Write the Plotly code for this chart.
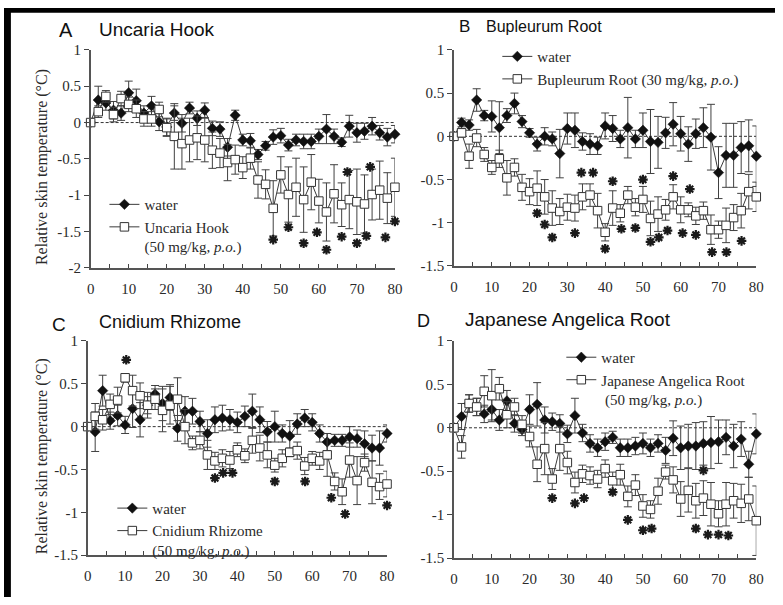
import plotly.graph_objects as go

# ---------------------------------------------------------------- data
minutes = list(range(0, 81, 2))

# A: Uncaria Hook
a_water = [0, 0.31, 0.27, 0.17, 0.13, 0.41, 0.30, 0.13, 0.23, 0.01, -0.06, 0.13, -0.01, 0.20, 0.06, 0.17,
           -0.08, -0.09, -0.34, 0.10, -0.24, -0.25, -0.44, -0.32, -0.20, -0.18, -0.31, -0.24, -0.26, -0.26,
           -0.19, -0.09, -0.19, -0.27, -0.05, -0.14, -0.12, -0.05, -0.14, -0.20, -0.16]
a_water_sem = [0, 0.19, 0.10, 0.12, 0.10, 0.16, 0.16, 0.10, 0.13, 0.12, 0.12, 0.10, 0.12, 0.08, 0.10, 0.10,
               0.10, 0.10, 0.12, 0.07, 0.08, 0.10, 0.07, 0.06, 0.10, 0.10, 0.08, 0.08, 0.10, 0.10,
               0.10, 0.20, 0.10, 0.06, 0.15, 0.13, 0.11, 0.12, 0.10, 0.12, 0.12]
a_drug = [0, 0.15, 0.36, 0.11, 0.33, 0.25, 0.19, 0.05, 0.05, 0.18, -0.07, -0.19, -0.29, -0.24, -0.21, -0.24,
          -0.38, -0.42, -0.55, -0.51, -0.62, -0.49, -0.79, -0.85, -1.18, -0.72, -0.99, -0.89, -1.06, -0.82,
          -1.08, -1.23, -0.98, -1.13, -1.06, -1.09, -1.12, -0.99, -0.93, -1.04, -0.89]
a_drug_sem = [0, 0.08, 0.08, 0.10, 0.10, 0.10, 0.12, 0.10, 0.10, 0.10, 0.12, 0.45, 0.35, 0.30, 0.30, 0.30,
              0.25, 0.20, 0.25, 0.20, 0.15, 0.15, 0.25, 0.20, 0.38, 0.25, 0.38, 0.40, 0.45, 0.38,
              0.30, 0.40, 0.40, 0.30, 0.40, 0.45, 0.40, 0.35, 0.40, 0.35, 0.40]
a_star_t = [48, 52, 56, 59.5, 62, 66, 67.5, 70, 72.5, 73.5, 77.5, 80]
a_star_y = [-1.61, -1.44, -1.66, -1.51, -1.75, -1.57, -0.68, -1.66, -1.56, -0.61, -1.58, -1.36]

# B: Bupleurum Root
b_water = [0, 0.16, 0.13, 0.42, 0.24, 0.23, 0.10, 0.24, 0.38, 0.17, 0.04, -0.09, 0.00, -0.03, -0.20, 0.09,
           0.07, -0.06, -0.09, -0.11, 0.12, 0.09, -0.03, 0.10, -0.03, 0.07, -0.06, -0.07, 0.04, 0.14,
           0.03, -0.09, 0.03, 0.10, -0.01, -0.42, -0.22, -0.22, -0.13, -0.11, -0.23]
b_water_sem = [0, 0.05, 0.06, 0.13, 0.06, 0.18, 0.30, 0.08, 0.12, 0.07, 0.05, 0.08, 0.10, 0.08, 0.28, 0.18,
               0.20, 0.10, 0.12, 0.10, 0.15, 0.15, 0.10, 0.35, 0.10, 0.20, 0.37, 0.30, 0.18, 0.25,
               0.20, 0.20, 0.17, 0.23, 0.38, 0.30, 0.37, 0.37, 0.30, 0.30, 0.35]
b_drug = [0, 0.04, -0.23, -0.02, -0.21, -0.36, -0.26, -0.48, -0.36, -0.59, -0.64, -0.60, -0.70, -0.83, -0.87,
          -0.82, -0.83, -0.70, -0.68, -0.86, -1.11, -0.83, -0.89, -0.68, -0.82, -0.73, -0.95, -0.90, -0.85,
          -0.70, -0.85, -0.85, -0.92, -0.86, -1.08, -1.08, -1.03, -0.94, -0.86, -0.64, -0.70]
b_drug_sem = [0, 0.05, 0.14, 0.10, 0.08, 0.08, 0.10, 0.20, 0.10, 0.15, 0.15, 0.20, 0.20, 0.20, 0.15, 0.15,
              0.15, 0.15, 0.13, 0.20, 0.10, 0.20, 0.10, 0.10, 0.10, 0.15, 0.20, 0.20, 0.12, 0.14,
              0.15, 0.08, 0.10, 0.10, 0.17, 0.10, 0.20, 0.15, 0.20, 0.20, 0.17]
b_star_t = [22, 24, 26, 32, 33.7, 36.8, 40, 42, 44.3, 48, 50, 52, 54.2, 56.5, 58, 60.5, 62.4, 64, 68.3, 72.1, 76.1]
b_star_y = [-0.89, -1.02, -1.17, -1.12, -0.42, -0.42, -1.30, -0.52, -1.07, -1.06, -0.50, -1.22, -1.17, -1.09,
            -0.46, -1.12, -0.61, -1.14, -1.34, -1.34, -1.21]

# C: Cnidium Rhizome
c_water = [0, -0.06, 0.42, 0.07, 0.13, 0.02, 0.21, 0.08, 0.25, 0.38, 0.27, 0.34, -0.02, 0.18, 0.18, 0.06,
           -0.08, 0.08, 0.10, 0.08, 0.05, 0.12, 0.18, 0.08, -0.06, 0.00, -0.08, -0.11, 0.03, 0.10,
           0.05, -0.08, -0.18, -0.16, -0.16, -0.12, -0.14, -0.20, -0.25, -0.25, -0.08]
c_water_sem = [0, 0.23, 0.18, 0.10, 0.12, 0.10, 0.22, 0.20, 0.10, 0.10, 0.20, 0.15, 0.15, 0.17, 0.15, 0.12,
               0.16, 0.15, 0.15, 0.12, 0.12, 0.12, 0.20, 0.15, 0.12, 0.18, 0.10, 0.18, 0.12, 0.10,
               0.10, 0.10, 0.10, 0.07, 0.07, 0.12, 0.10, 0.15, 0.15, 0.20, 0.10]
c_drug = [0, 0.12, 0.08, 0.26, 0.31, 0.57, 0.42, 0.36, 0.25, 0.32, 0.19, 0.25, 0.32, 0.00, -0.19, -0.16,
          -0.33, -0.40, -0.37, -0.39, -0.27, -0.34, -0.16, -0.25, -0.33, -0.45, -0.37, -0.30, -0.28, -0.46,
          -0.37, -0.40, -0.33, -0.64, -0.76, -0.39, -0.63, -0.42, -0.65, -0.70, -0.67]
c_drug_sem = [0, 0.15, 0.12, 0.12, 0.15, 0.05, 0.18, 0.15, 0.15, 0.12, 0.25, 0.22, 0.25, 0.20, 0.08, 0.10,
              0.17, 0.10, 0.10, 0.10, 0.08, 0.08, 0.15, 0.15, 0.15, 0.08, 0.10, 0.05, 0.10, 0.10,
              0.08, 0.10, 0.25, 0.10, 0.15, 0.20, 0.28, 0.10, 0.25, 0.15, 0.15]
c_star_t = [10.3, 34, 36.2, 38.7, 50, 58.1, 65.1, 68.8, 80]
c_star_y = [0.78, -0.60, -0.54, -0.54, -0.64, -0.64, -0.83, -1.02, -0.92]

# D: Japanese Angelica Root
d_water = [0, 0.13, 0.28, 0.24, 0.16, 0.21, 0.09, 0.31, 0.05, -0.02, 0.21, 0.27, 0.09, 0.07, 0.05, -0.07,
           0.14, -0.06, -0.18, -0.23, -0.16, -0.11, -0.23, -0.23, -0.21, -0.18, -0.23, -0.18, -0.26, -0.12,
           -0.23, -0.21, -0.21, -0.18, -0.17, -0.16, -0.11, -0.21, -0.13, -0.42, -0.07]
d_water_sem = [0, 0.15, 0.10, 0.10, 0.10, 0.12, 0.12, 0.12, 0.10, 0.07, 0.17, 0.25, 0.15, 0.10, 0.10, 0.10,
               0.20, 0.10, 0.10, 0.10, 0.10, 0.07, 0.10, 0.10, 0.10, 0.12, 0.10, 0.10, 0.15, 0.20,
               0.25, 0.25, 0.27, 0.25, 0.30, 0.25, 0.20, 0.25, 0.20, 0.15, 0.23]
d_drug = [0, -0.22, 0.28, 0.24, 0.42, 0.37, 0.45, 0.15, 0.24, 0.04, -0.10, -0.42, -0.24, -0.59, -0.24, -0.40,
          -0.63, -0.53, -0.55, -0.59, -0.47, -0.61, -0.54, -0.79, -0.66, -0.90, -0.94, -0.73, -0.51, -0.60,
          -0.82, -0.72, -0.84, -0.81, -0.88, -0.99, -0.88, -0.84, -0.87, -0.82, -1.07]
d_drug_sem = [0, 0.13, 0.10, 0.10, 0.18, 0.30, 0.13, 0.15, 0.10, 0.10, 0.12, 0.20, 0.30, 0.12, 0.25, 0.13,
              0.12, 0.10, 0.10, 0.10, 0.10, 0.10, 0.12, 0.12, 0.12, 0.13, 0.10, 0.15, 0.08, 0.15,
              0.20, 0.25, 0.20, 0.20, 0.25, 0.15, 0.25, 0.20, 0.22, 0.25, 0.40]
d_star_t = [26, 32, 34.4, 42, 46, 50, 52.3, 64, 66, 67.2, 70, 72.6]
d_star_y = [-0.81, -0.87, -0.81, -0.74, -1.06, -1.18, -1.16, -1.16, -0.49, -1.23, -1.23, -1.24]

x_ticks = [0, 10, 20, 30, 40, 50, 60, 70, 80]
y_ticks_a = [-2, -1.5, -1, -0.5, 0, 0.5, 1]
y_ticks = [-1.5, -1, -0.5, 0, 0.5, 1]
y_title = "Relative skin temperature (°C)"

# ---------------------------------------------------------------- layout helpers
W, H = 783, 605


def fx(px):
    return px / W


def fy(py):
    return 1 - py / H


SERIF = "Liberation Serif"
SANS = "Liberation Sans"
INK = "#2a2a2a"
LINE = "#3a3a3a"

panels = [
    dict(letter="A", title="Uncaria Hook", water=a_water, water_sem=a_water_sem, drug=a_drug,
         drug_sem=a_drug_sem, star_t=a_star_t, star_y=a_star_y, yticks=y_ticks_a,
         drug_label="Uncaria Hook<br>(50\u00a0mg/kg, <i>p.o.</i>)",
         xdom=(88, 397), ydom=(43, 267), legend_pos=(102, 185),
         letter_pos=(54, 23), title_pos=(94, 22), title_size=19, letter_size=20, show_ytitle=True),
    dict(letter="B", title="Bupleurum Root", water=b_water, water_sem=b_water_sem, drug=b_drug,
         drug_sem=b_drug_sem, star_t=b_star_t, star_y=b_star_y, yticks=y_ticks,
         drug_label="Bupleurum Root (30 mg/kg, <i>p.o.</i>)",
         xdom=(457, 764), ydom=(43, 265), legend_pos=(501, 33),
         letter_pos=(460, 19), title_pos=(487, 19), title_size=16, letter_size=17, show_ytitle=False),
    dict(letter="C", title="Cnidium Rhizome", water=c_water, water_sem=c_water_sem, drug=c_drug,
         drug_sem=c_drug_sem, star_t=c_star_t, star_y=c_star_y, yticks=y_ticks,
         drug_label="Cnidium Rhizome<br>(50 mg/kg, <i>p.o.</i>)",
         xdom=(85, 389), ydom=(342, 562), legend_pos=(110, 497),
         letter_pos=(47, 325), title_pos=(94, 323), title_size=18, letter_size=19, show_ytitle=True),
    dict(letter="D", title="Japanese Angelica Root", water=d_water, water_sem=d_water_sem, drug=d_drug,
         drug_sem=d_drug_sem, star_t=d_star_t, star_y=d_star_y, yticks=y_ticks,
         drug_label="Japanese Angelica Root<br>\u00a0(50 mg/kg, <i>p.o.</i>)",
         xdom=(457, 764), ydom=(342, 565), legend_pos=(566, 342),
         letter_pos=(417, 321), title_pos=(466, 320), title_size=19, letter_size=18, show_ytitle=False),
]

fig = go.Figure()
annotations = []
shapes = []
layout_axes = {}

for i, p in enumerate(panels):
    n = "" if i == 0 else str(i + 1)
    xa, ya = "x" + n, "y" + n
    leg = "legend" + n

    for vals, sem, name, sym, fill, lcol in (
        (p["water"], p["water_sem"], "water", "diamond", "#111111", "#111111"),
        (p["drug"], p["drug_sem"], p["drug_label"], "square", "white", "#333333"),
    ):
        # SEM whiskers, kept out of the legend keys
        fig.add_trace(go.Scatter(
            x=minutes, y=vals, mode="markers", showlegend=False, hoverinfo="skip",
            xaxis=xa, yaxis=ya, cliponaxis=False,
            marker=dict(size=2, opacity=0),
            error_y=dict(type="data", array=sem, symmetric=True, color="#404040", thickness=1, width=4),
        ))
        fig.add_trace(go.Scatter(
            x=minutes, y=vals, name=name, mode="lines+markers", legend=leg,
            xaxis=xa, yaxis=ya, cliponaxis=False,
            line=dict(color=LINE, width=1),
            marker=dict(symbol=sym, size=8 if sym == "diamond" else 8.5, color=fill,
                        line=dict(color=lcol, width=1 if sym == "square" else 0.5)),
        ))

    # significance marks
    fig.add_trace(go.Scatter(
        x=p["star_t"], y=p["star_y"], mode="markers", showlegend=False,
        xaxis=xa, yaxis=ya, cliponaxis=False, hoverinfo="skip",
        marker=dict(symbol="asterisk-open", size=8, color="#1a1a1a",
                    line=dict(color="#1a1a1a", width=2.2)),
    ))

    # dashed baseline
    shapes.append(dict(type="line", xref=xa, yref=ya, x0=0, x1=80, y0=0, y1=0,
                       line=dict(color="#333333", width=1, dash="3px,2px"), layer="below"))

    yt = p["yticks"]
    layout_axes["xaxis" + n] = dict(
        domain=[fx(p["xdom"][0]), fx(p["xdom"][1])], anchor=ya, range=[0, 80],
        tickvals=x_ticks, ticktext=[str(v) for v in x_ticks],
        ticks="inside", ticklen=4, tickwidth=1, tickcolor="#444444",
        minor=dict(dtick=5, ticks="inside", ticklen=4, tickcolor="#444444"),
        showline=True, linecolor="#555555", linewidth=1.5, showgrid=False, zeroline=False,
        ticklabelstandoff=6,
        tickfont=dict(family=SERIF, size=15, color=INK), fixedrange=True,
    )
    layout_axes["yaxis" + n] = dict(
        domain=[fy(p["ydom"][1]), fy(p["ydom"][0])], anchor=xa, range=[yt[0], yt[-1]],
        tickvals=yt, ticktext=[("-" if v < 0 else "") + ("%g" % abs(v)) for v in yt],
        ticks="outside", ticklen=5, tickwidth=1, tickcolor="#444444",
        showline=True, linecolor="#555555", linewidth=1.5, showgrid=False, zeroline=False,
        tickfont=dict(family=SERIF, size=15, color=INK), fixedrange=True,
    )
    layout_axes[leg] = dict(
        x=fx(p["legend_pos"][0]), y=fy(p["legend_pos"][1]), xanchor="left", yanchor="top",
        bgcolor="rgba(0,0,0,0)", borderwidth=0, tracegroupgap=0, valign="top",
        font=dict(family=SERIF, size=15, color=INK),
    )

    annotations.append(dict(text=p["letter"], x=fx(p["letter_pos"][0]), y=fy(p["letter_pos"][1]),
                            xref="paper", yref="paper", xanchor="left", yanchor="middle", showarrow=False,
                            font=dict(family=SANS, size=p["letter_size"], color="#111111")))
    annotations.append(dict(text=p["title"], x=fx(p["title_pos"][0]), y=fy(p["title_pos"][1]),
                            xref="paper", yref="paper", xanchor="left", yanchor="middle", showarrow=False,
                            font=dict(family=SANS, size=p["title_size"], color="#111111")))
    if p["show_ytitle"]:
        cy = (p["ydom"][0] + p["ydom"][1]) / 2 + 8
        annotations.append(dict(text=y_title, x=fx(38), y=fy(cy), xref="paper", yref="paper",
                                xanchor="center", yanchor="middle", textangle=-90, showarrow=False,
                                font=dict(family=SERIF, size=16, color=INK)))

# dark frame strips along the top and left edges
shapes.append(dict(type="rect", xref="paper", yref="paper", x0=0, x1=fx(7), y0=0, y1=1,
                   fillcolor="black", line=dict(width=0)))
shapes.append(dict(type="rect", xref="paper", yref="paper", x0=0, x1=1, y0=fy(5), y1=1,
                   fillcolor="black", line=dict(width=0)))

fig.update_layout(
    width=W, height=H, margin=dict(l=0, r=0, t=0, b=0),
    paper_bgcolor="white", plot_bgcolor="white",
    showlegend=True, annotations=annotations, shapes=shapes,
    **layout_axes,
)

fig.write_html("out.html")
